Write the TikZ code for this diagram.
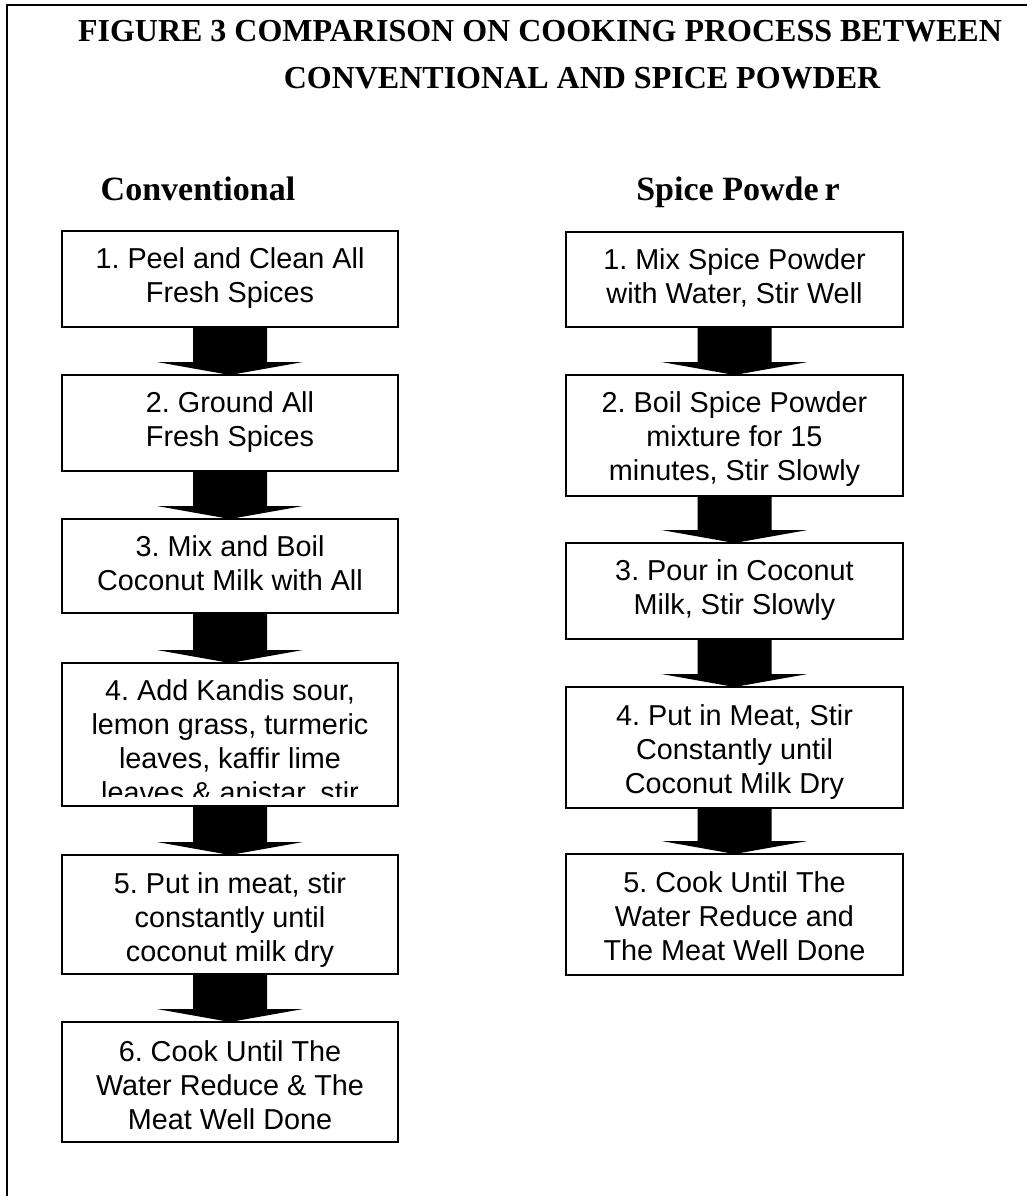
\documentclass[tikz,border=0pt]{standalone}
\usepackage{fontspec}
\setmainfont{Liberation Serif}
\newfontfamily\arialf{Liberation Sans}
\usetikzlibrary{calc}
\frenchspacing
\newcommand\flowarrow[2]{%
  \fill[flow] ($(#1.south)+(-37,0)$) -- ($(#1.south)+(37,0)$) -- ($(#2.north)+(37,-13)$)
    -- ($(#2.north)+(73,-13)$) -- (#2.north) -- ($(#2.north)+(-73,-13)$)
    -- ($(#2.north)+(-37,-13)$) -- cycle;}
\begin{document}
\begin{tikzpicture}[x=1pt,y=-1pt,
  stepbox/.style={draw=black, line width=1.6pt, minimum width=336pt, inner sep=0pt, outer sep=0pt},
  steptxt/.style={anchor=north, align=center, inner sep=0pt, font=\arialf\fontsize{28.8}{34}\selectfont},
  heading/.style={anchor=base, inner sep=0pt, font=\bfseries\fontsize{34}{38}\selectfont},
  titletxt/.style={anchor=base, inner sep=0pt, font=\bfseries\fontsize{32}{38}\selectfont},
  flow/.style={fill=black},
  frameline/.style={draw=black, line width=1.8pt}
]
\useasboundingbox (0,0) rectangle (1027,1196);
\fill[white] (0,0) rectangle (1027,1196);
% outer frame (clipped at right and bottom)
\draw[frameline] (7,1196) -- (7,5) -- (1027,5);

% title
\node[titletxt] (t1) at (540,42) {FIGURE 3 COMPARISON ON COOKING PROCESS BETWEEN};
\node[titletxt] (t2) at (582,89) {CONVENTIONAL AND SPICE POWDER};

% headings
\node[heading] (hc) at (198,200) {Conventional};
\node[heading] (hs) at (738,200) {Spice Powde\kern6pt r};

% left column boxes
\node[stepbox, minimum height=96pt]  (L1) at (230,279) {};
\node[stepbox, minimum height=96pt]  (L2) at (230,423) {};
\node[stepbox, minimum height=94pt]  (L3) at (230,566) {};
\node[stepbox, minimum height=143pt] (L4) at (230,734.5) {};
\node[stepbox, minimum height=119pt] (L5) at (230,914.5) {};
\node[stepbox, minimum height=120pt] (L6) at (230,1082) {};

% right column boxes
\node[stepbox, minimum width=337pt, minimum height=95pt]  (R1) at (734.5,279.5) {};
\node[stepbox, minimum width=337pt, minimum height=121pt] (R2) at (734.5,435.5) {};
\node[stepbox, minimum width=337pt, minimum height=96pt]  (R3) at (734.5,591) {};
\node[stepbox, minimum width=337pt, minimum height=121pt] (R4) at (734.5,747.5) {};
\node[stepbox, minimum width=337pt, minimum height=121pt] (R5) at (734.5,914.5) {};

% left texts
\node[steptxt] (L1t) at ($(L1.north)+(0,13.2)$) {\strut 1. Peel and Clean All\\Fresh Spices};
\node[steptxt] (L2t) at ($(L2.north)+(0,13.2)$) {\strut 2. Ground All\\Fresh Spices};
\node[steptxt] (L3t) at ($(L3.north)+(0,13.2)$) {\strut 3. Mix and Boil\\Coconut Milk with All};
\begin{scope}
  \clip ($(L4.north west)+(0,0)$) rectangle ($(L4.south east)+(0,-10)$);
  \node[steptxt] (L4t) at ($(L4.north)+(0,13.2)$) {\strut 4. Add Kandis sour,\\lemon grass, turmeric\\leaves, kaffir lime\\leaves \& anistar, stir};
\end{scope}
\node[steptxt] (L5t) at ($(L5.north)+(0,14.5)$) {\strut 5. Put in meat, stir\\constantly until\\coconut milk dry};
\node[steptxt] (L6t) at ($(L6.north)+(0,15.5)$) {\strut 6. Cook Until The\\Water Reduce \& The\\Meat Well Done};

% right texts
\node[steptxt] (R1t) at ($(R1.north)+(0,13.2)$) {\strut 1. Mix Spice Powder\\with Water, Stir Well};
\node[steptxt] (R2t) at ($(R2.north)+(0,13.2)$) {\strut 2. Boil Spice Powder\\mixture for 15\\minutes, Stir Slowly};
\node[steptxt] (R3t) at ($(R3.north)+(0,13.2)$) {\strut 3. Pour in Coconut\\Milk, Stir Slowly};
\node[steptxt] (R4t) at ($(R4.north)+(0,14)$) {\strut 4. Put in Meat, Stir\\Constantly until\\Coconut Milk Dry};
\node[steptxt] (R5t) at ($(R5.north)+(0,14)$) {\strut 5. Cook Until The\\Water Reduce and\\The Meat Well Done};

% block arrows
\flowarrow{L1}{L2}
\flowarrow{L2}{L3}
\flowarrow{L3}{L4}
\flowarrow{L4}{L5}
\flowarrow{L5}{L6}
\flowarrow{R1}{R2}
\flowarrow{R2}{R3}
\flowarrow{R3}{R4}
\flowarrow{R4}{R5}
\end{tikzpicture}
\end{document}
